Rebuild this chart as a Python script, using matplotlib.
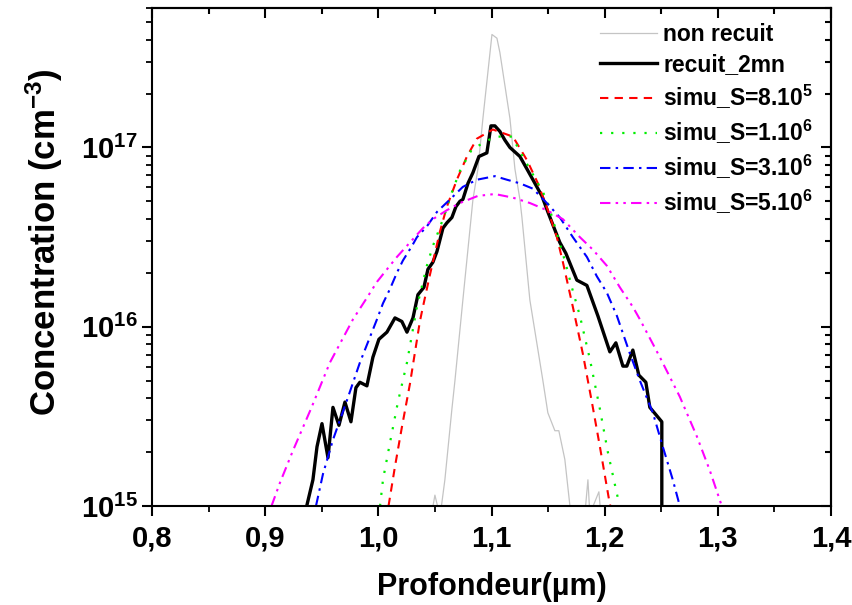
import matplotlib
matplotlib.use('Agg')
from matplotlib import pyplot as plt
from matplotlib.ticker import FuncFormatter, LogLocator, MultipleLocator

plt.rcParams['font.family'] = ['Liberation Sans', 'DejaVu Sans']
plt.rcParams['font.weight'] = 'bold'
plt.rcParams['mathtext.fontset'] = 'custom'
plt.rcParams['mathtext.rm'] = 'Liberation Sans:bold'
plt.rcParams['mathtext.it'] = 'Liberation Sans:bold'
plt.rcParams['mathtext.bf'] = 'Liberation Sans:bold'

# non recuit (as implanted)
x_ref = [1.0470, 1.0500, 1.0540, 1.0553, 1.0588, 1.0650, 1.0677, 1.0747, 1.0836,
         1.0880, 1.0924, 1.1004, 1.1048, 1.1074, 1.1163, 1.1207, 1.1251, 1.1269,
         1.1339, 1.1454, 1.1498, 1.1560, 1.1595, 1.1648, 1.1693, 1.1720, 1.1825,
         1.1852, 1.1869, 1.1949, 1.1966, 1.2000]
c_ref = [9.0e14, 1.15e15, 9.0e14, 9.5e14, 1.40e15, 3.47e15, 5.01e15, 1.41e16, 5.13e16,
         7.59e16, 1.45e17, 4.27e17, 4.07e17, 3.39e17, 1.45e17, 7.59e16, 5.13e16, 4.07e16,
         1.41e16, 5.01e15, 3.31e15, 2.63e15, 2.63e15, 1.82e15, 1.0e15, 9.0e14, 9.0e14,
         1.40e15, 9.0e14, 1.20e15, 9.0e14, 9.0e14]

# recuit_2mn
x_ann = [0.9350, 0.9422, 0.9458, 0.9502, 0.9555, 0.9599, 0.9652, 0.9705, 0.9758,
         0.9802, 0.9837, 0.9899, 0.9952, 1.0005, 1.0076, 1.0147, 1.0208, 1.0253,
         1.0306, 1.0350, 1.0403, 1.0438, 1.0482, 1.0518, 1.0571, 1.0606, 1.0650,
         1.0686, 1.0721, 1.0747, 1.0792, 1.0836, 1.0889, 1.0959, 1.0995, 1.1030,
         1.1074, 1.1118, 1.1163, 1.1251, 1.1313, 1.1366, 1.1445, 1.1498, 1.1560,
         1.1604, 1.1657, 1.1754, 1.1843, 1.1940, 1.2046, 1.2099, 1.2161, 1.2196,
         1.2249, 1.2302, 1.2364, 1.2399, 1.2505, 1.2505]
c_ann = [9.0e14, 1.40e15, 2.14e15, 2.88e15, 1.86e15, 3.55e15, 2.82e15, 3.80e15, 2.95e15,
         4.57e15, 4.90e15, 4.68e15, 6.76e15, 8.51e15, 9.33e15, 1.12e16, 1.07e16, 9.33e15,
         1.12e16, 1.51e16, 1.66e16, 2.09e16, 2.29e16, 2.63e16, 3.55e16, 3.80e16, 4.07e16,
         4.68e16, 5.01e16, 5.13e16, 6.31e16, 7.24e16, 8.91e16, 9.33e16, 1.32e17, 1.32e17,
         1.23e17, 1.10e17, 1.0e17, 8.91e16, 7.59e16, 6.61e16, 5.37e16, 4.37e16, 3.47e16,
         2.95e16, 2.57e16, 1.82e16, 1.70e16, 1.15e16, 7.24e15, 8.13e15, 6.03e15, 6.03e15,
         7.41e15, 5.37e15, 4.90e15, 3.55e15, 2.95e15, 8.0e14]

# simu_S=8.10^5
x_s1 = [1.0090, 1.0147, 1.0208, 1.0279, 1.0367, 1.0394, 1.0456, 1.0500, 1.0544,
        1.0606, 1.0694, 1.0783, 1.0871, 1.1012, 1.1189, 1.1313, 1.1410, 1.1498,
        1.1578, 1.1631, 1.1719, 1.1807, 1.1887, 1.1958, 1.2037, 1.2050]
c_s1 = [1.0e15, 1.66e15, 2.75e15, 4.79e15, 1.07e16, 1.29e16, 1.95e16, 2.57e16, 3.39e16,
        4.68e16, 6.61e16, 8.91e16, 1.12e17, 1.26e17, 1.15e17, 8.51e16, 6.31e16, 4.47e16,
        3.16e16, 2.29e16, 1.29e16, 7.08e15, 3.80e15, 2.14e15, 1.10e15, 1.0e15]

# simu_S=1.10^6
x_s2 = [1.0015, 1.0041, 1.0102, 1.0173, 1.0253, 1.0341, 1.0429, 1.0482, 1.0571,
        1.0650, 1.0721, 1.0827, 1.1030, 1.1180, 1.1277, 1.1392, 1.1489, 1.1578,
        1.1648, 1.1710, 1.1781, 1.1869, 1.1958, 1.2028, 1.2108, 1.2134]
c_s2 = [1.0e15, 1.40e15, 2.24e15, 3.80e15, 6.31e15, 1.29e16, 2.19e16, 2.82e16, 3.98e16,
        5.62e16, 7.41e16, 9.77e16, 1.15e17, 1.15e17, 8.91e16, 6.61e16, 5.13e16, 3.31e16,
        2.34e16, 1.66e16, 1.15e16, 6.61e15, 3.47e15, 2.0e15, 1.17e15, 1.0e15]

# simu_S=3.10^6
x_s3 = [0.9449, 0.9511, 0.9599, 0.9723, 0.9837, 0.9988, 1.0041, 1.0102, 1.0164,
        1.0217, 1.0297, 1.0341, 1.0429, 1.0518, 1.0633, 1.0747, 1.0871, 1.1030,
        1.1136, 1.1251, 1.1366, 1.1489, 1.1604, 1.1719, 1.1843, 1.1931, 1.2019,
        1.2108, 1.2223, 1.2311, 1.2426, 1.2514, 1.2602, 1.2664]
c_s3 = [1.0e15, 1.51e15, 2.34e15, 3.89e15, 6.31e15, 1.10e16, 1.35e16, 1.62e16, 2.0e16,
        2.34e16, 2.82e16, 3.16e16, 3.63e16, 4.37e16, 5.13e16, 6.03e16, 6.61e16, 6.92e16,
        6.61e16, 6.31e16, 5.89e16, 4.90e16, 4.07e16, 3.16e16, 2.45e16, 1.91e16, 1.55e16,
        1.15e16, 7.08e15, 5.01e15, 3.31e15, 2.14e15, 1.40e15, 1.0e15]

# simu_S=5.10^6
x_s4 = [0.9056, 0.9131, 0.9246, 0.9410, 0.9572, 0.9776, 0.9899, 0.9988, 1.0076,
        1.0164, 1.0279, 1.0394, 1.0482, 1.0606, 1.0721, 1.0880, 1.1030, 1.1189,
        1.1339, 1.1489, 1.1631, 1.1781, 1.1896, 1.2019, 1.2134, 1.2249, 1.2311,
        1.2488, 1.2664, 1.2814, 1.2929, 1.3035]
c_s4 = [1.0e15, 1.35e15, 2.04e15, 3.55e15, 6.31e15, 1.10e16, 1.45e16, 1.78e16, 2.09e16,
        2.45e16, 2.95e16, 3.55e16, 3.98e16, 4.47e16, 4.90e16, 5.37e16, 5.50e16, 5.25e16,
        4.90e16, 4.47e16, 3.98e16, 3.16e16, 2.69e16, 2.19e16, 1.66e16, 1.29e16, 1.10e16,
        6.76e15, 4.07e15, 2.45e15, 1.58e15, 1.0e15]

labels = ['non recuit', 'recuit_2mn', 'simu_S=8.10$^5$', 'simu_S=1.10$^6$',
          'simu_S=3.10$^6$', 'simu_S=5.10$^6$']

fig = plt.figure(figsize=(8.52, 6.05), dpi=100)
ax = fig.add_axes([152 / 852, 1 - 506 / 605, 679 / 852, 498 / 605])

ax.plot(x_ref, c_ref, color='#c4c4c4', lw=0.9, label=labels[0])
ax.plot(x_ann, c_ann, color='black', lw=2.4, label=labels[1])
ax.plot(x_s1, c_s1, color='#ff0000', lw=1.5, ls=(0, (4, 3)), label=labels[2])
ax.plot(x_s2, c_s2, color='#00ee00', lw=1.6, ls=(0, (1, 4)), label=labels[3])
ax.plot(x_s3, c_s3, color='#0000ff', lw=1.5, ls=(0, (5, 2.5, 1.2, 2.5)), label=labels[4])
ax.plot(x_s4, c_s4, color='#ff00ff', lw=1.5, ls=(0, (5, 2.5, 1.2, 2.5, 1.2, 2.5)), label=labels[5])

ax.set_yscale('log')
ax.set_xlim(0.8, 1.4)
ax.set_ylim(1e15, 6e17)
ax.xaxis.set_major_locator(MultipleLocator(0.1))
ax.xaxis.set_minor_locator(MultipleLocator(0.05))
ax.xaxis.set_major_formatter(FuncFormatter(lambda v, p: f'{v:.1f}'.replace('.', ',')))
ax.yaxis.set_major_locator(LogLocator(base=10, numticks=10))
ax.yaxis.set_minor_locator(LogLocator(base=10, subs=range(2, 10), numticks=10))

for sp in ax.spines.values():
    sp.set_linewidth(1.5)

ax.tick_params(axis='both', which='major', labelsize=21, width=1.5, length=7)
ax.tick_params(axis='both', which='minor', width=1.3, length=4.5)
ax.tick_params(axis='x', which='both', direction='out', top=False)
ax.tick_params(axis='y', which='both', direction='out', right=False)
ax.tick_params(axis='x', pad=6)

# mirrored inward ticks on top and right
top = ax.secondary_xaxis('top')
top.xaxis.set_major_locator(MultipleLocator(0.1))
top.xaxis.set_minor_locator(MultipleLocator(0.05))
top.tick_params(which='both', direction='in', labeltop=False, width=1.5)
top.tick_params(which='major', length=7)
top.tick_params(which='minor', length=4.5)
top.spines['top'].set_linewidth(1.5)
right = ax.secondary_yaxis('right')
right.yaxis.set_major_locator(LogLocator(base=10, numticks=10))
right.yaxis.set_minor_locator(LogLocator(base=10, subs=range(2, 10), numticks=10))
right.tick_params(which='both', direction='in', labelright=False, width=1.5)
right.tick_params(which='major', length=7)
right.tick_params(which='minor', length=4.5)
right.spines['right'].set_linewidth(1.5)

ax.set_xlabel('Profondeur(µm)', fontsize=22, fontweight='bold', labelpad=14)
ax.set_ylabel('Concentration (cm$^{-3}$)', fontsize=25, fontweight='bold')
ax.yaxis.set_label_coords(-0.128, 0.53)

ax.legend(loc='upper left', bbox_to_anchor=(600 / 852, 1 - 23 / 605),
          bbox_transform=fig.transFigure, frameon=False, fontsize=16.5,
          handlelength=2.5, handletextpad=0.25, labelspacing=0.3,
          borderpad=0, borderaxespad=0)

fig.savefig('out.png', dpi=100)
